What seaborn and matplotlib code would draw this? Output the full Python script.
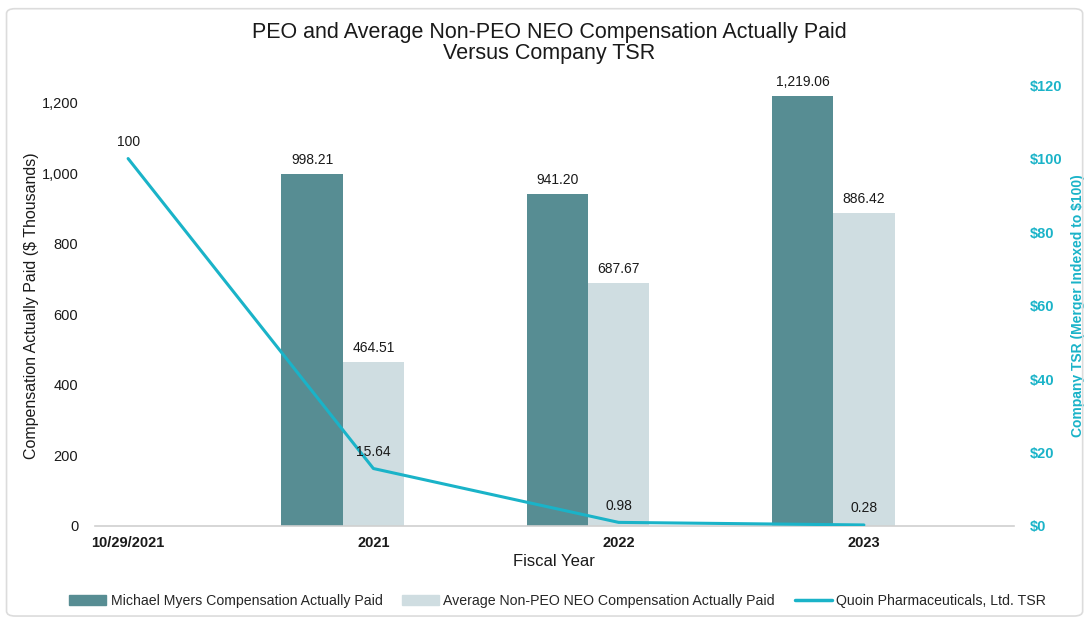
import matplotlib
matplotlib.use("Agg")
import matplotlib.pyplot as plt
from matplotlib.patches import Rectangle, FancyBboxPatch
from matplotlib.lines import Line2D
from matplotlib.ticker import FuncFormatter
import numpy as np
import pandas as pd
import seaborn as sns

# ── data ──────────────────────────────────────────────────────────────────────
periods = ["10/29/2021", "2021", "2022", "2023"]
peo_cap = [np.nan, 998.21, 941.20, 1219.06]
neo_cap = [np.nan, 464.51, 687.67, 886.42]
tsr = [100, 15.64, 0.98, 0.28]
tsr_labels = ["100", "15.64", "0.98", "0.28"]

peo_name = "Michael Myers Compensation Actually Paid"
neo_name = "Average Non-PEO NEO Compensation Actually Paid"
tsr_name = "Quoin Pharmaceuticals, Ltd. TSR"

DARK = "#578d93"
LIGHT = "#cfdde1"
CYAN = "#1ab3c8"
TXT = "#1a1a1a"

sns.set_theme(style="white")
plt.rcParams["font.family"] = ["Liberation Sans", "DejaVu Sans"]

pos = np.arange(len(periods))
bar_w = 0.25
df_peo = pd.DataFrame({"x": pos - bar_w, "y": peo_cap})
df_neo = pd.DataFrame({"x": pos.astype(float), "y": neo_cap})
df_tsr = pd.DataFrame({"x": pos, "y": tsr})

fig = plt.figure(figsize=(10.87, 6.21), dpi=100)
ax = fig.add_axes([0.0874, 0.153, 0.845, 0.710])

sns.barplot(data=df_peo, x="x", y="y", native_scale=True, width=bar_w,
            color=DARK, saturation=1, ax=ax, errorbar=None, linewidth=0)
sns.barplot(data=df_neo, x="x", y="y", native_scale=True, width=bar_w,
            color=LIGHT, saturation=1, ax=ax, errorbar=None, linewidth=0)

for vals, offs in ((peo_cap, -bar_w), (neo_cap, 0.0)):
    for i, v in enumerate(vals):
        if np.isnan(v):
            continue
        ax.annotate(f"{v:,.2f}", (pos[i] + offs, v), xytext=(0, 5),
                    textcoords="offset points", ha="center", va="bottom",
                    fontsize=10, color=TXT)

ax.set_xlim(-0.135, 3.61)
ax.set_ylim(0, 1250)
ax.set_yticks(np.arange(0, 1201, 200))
ax.yaxis.set_major_formatter(FuncFormatter(lambda v, _: f"{v:,.0f}"))
ax.set_xticks(pos)
ax.set_xticklabels(periods, fontweight="bold")
ax.tick_params(axis="x", length=0, pad=7, labelsize=10.5, labelcolor=TXT)
ax.tick_params(axis="y", length=0, pad=12, labelsize=10.5, labelcolor=TXT)
ax.set_xlabel("Fiscal Year", fontsize=12, color=TXT, labelpad=3)
ax.set_ylabel("Compensation Actually Paid ($ Thousands)", fontsize=11.5,
              color=TXT, labelpad=2)
for s in ("top", "right", "left"):
    ax.spines[s].set_visible(False)
ax.spines["bottom"].set_color("#d0d0d0")
ax.spines["bottom"].set_linewidth(1.2)

ax2 = ax.twinx()
sns.lineplot(data=df_tsr, x="x", y="y", color=CYAN, linewidth=2.2, ax=ax2)
for i, v in enumerate(tsr):
    ax2.annotate(tsr_labels[i], (pos[i], v), xytext=(0, 7),
                 textcoords="offset points", ha="center", va="bottom",
                 fontsize=10, color=TXT)
ax2.set_ylim(0, 120)
ax2.set_yticks(np.arange(0, 121, 20))
ax2.yaxis.set_major_formatter(FuncFormatter(lambda v, _: f"${v:,.0f}"))
ax2.tick_params(axis="y", length=0, pad=12, labelsize=10.5, labelcolor=CYAN)
for t in ax2.get_yticklabels():
    t.set_fontweight("bold")
ax2.set_ylabel("Company TSR (Merger Indexed to $100)", fontsize=10,
               color=CYAN, fontweight="bold", labelpad=6)
ax2.set_xlabel("")
for s in ("top", "right", "left", "bottom"):
    ax2.spines[s].set_visible(False)

fig.suptitle("PEO and Average Non-PEO NEO Compensation Actually Paid\nVersus Company TSR",
             x=0.505, y=0.965, fontsize=15.5, color=TXT, linespacing=1.0)

handles = [
    Rectangle((0, 0), 1, 1, color=DARK),
    Rectangle((0, 0), 1, 1, color=LIGHT),
    Line2D([0], [0], color=CYAN, linewidth=2.5),
]
fig.legend(handles, [peo_name, neo_name, tsr_name], loc="center",
           bbox_to_anchor=(0.513, 0.032), ncol=3, frameon=False, fontsize=10.2,
           handlelength=2.6, handleheight=0.7, handletextpad=0.3,
           columnspacing=1.4)

border = FancyBboxPatch((0.006, 0.008), 0.99, 0.978,
                        boxstyle="round,pad=0,rounding_size=0.008",
                        transform=fig.transFigure, fill=False,
                        edgecolor="#dcdcdc", linewidth=1.2)
fig.patches.append(border)

fig.savefig("out.png", dpi=100)
